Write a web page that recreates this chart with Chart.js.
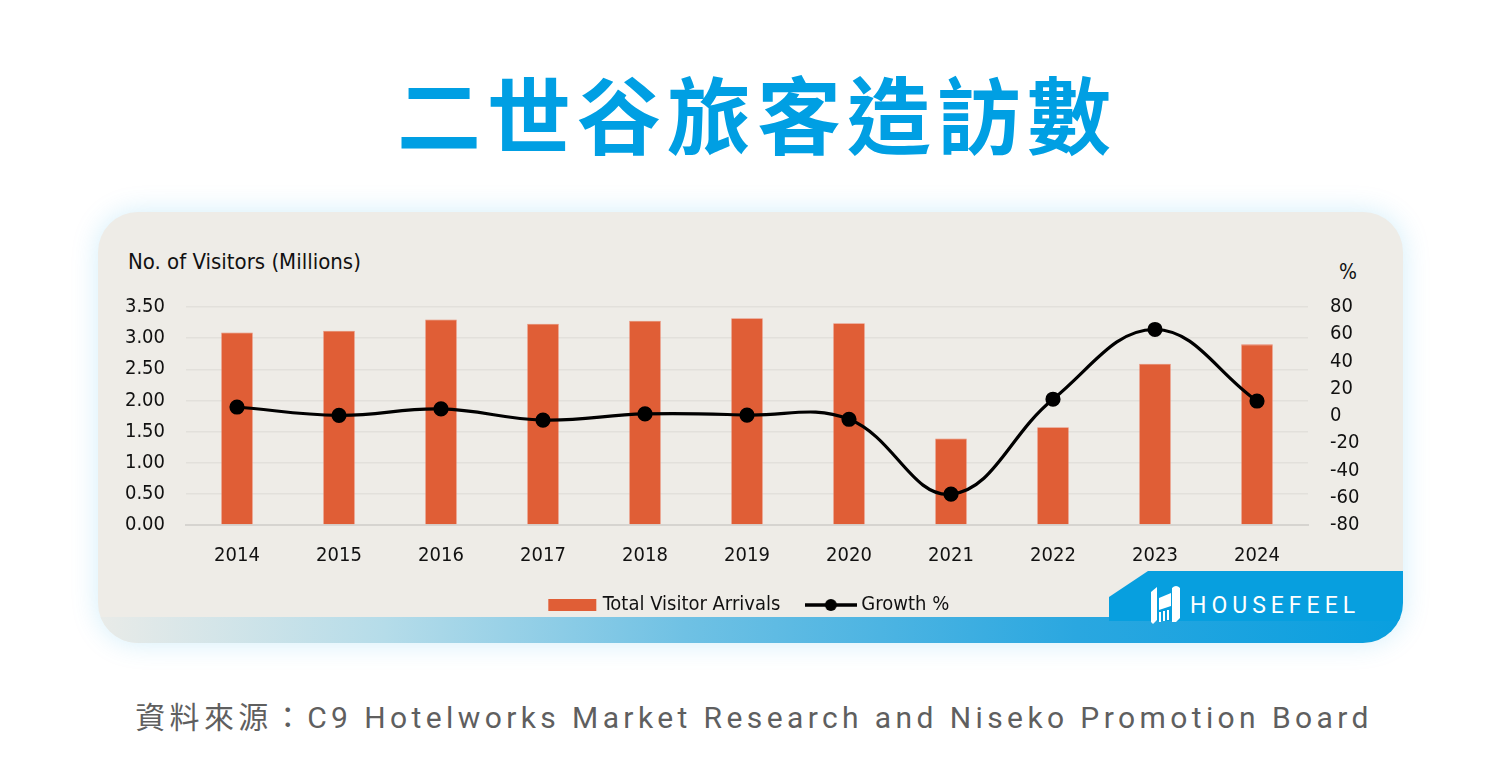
<!DOCTYPE html>
<html>
<head>
<meta charset="utf-8">
<script src="https://cdn.jsdelivr.net/npm/chart.js@4"></script>
<style>
  html, body { margin: 0; padding: 0; background: #ffffff; }
  body { width: 1500px; height: 778px; position: relative; overflow: hidden; }
  .titulo {
    position: absolute; left: 0; top: 62px; width: 1500px; text-align: center;
    font-family: "Noto Sans CJK TC", sans-serif; font-weight: 700; font-size: 84px;
    letter-spacing: 6px; color: #009fe3; line-height: 100px; padding-left: 14px; box-sizing: border-box;
  }
  .card {
    position: absolute; left: 98px; top: 212px; width: 1305px; height: 431px;
    background: #eeece7; border-radius: 40px; overflow: hidden;
    box-shadow: 0 0 28px rgba(0, 160, 230, 0.18);
  }
  .faixa {
    position: absolute; left: 0; bottom: 0; width: 100%; height: 26px;
    background: linear-gradient(90deg, #e9ebe8 0%, #b5dce9 22%, #6fc1e4 45%, #2aa7e0 75%, #099fdf 100%);
  }
  .aba {
    position: absolute; right: 0; top: 359px; width: 294px; height: 50px;
    background: #079fdf; clip-path: polygon(0 26px, 39px 0, 100% 0, 100% 100%, 0 100%);
  }
  .marca {
    position: absolute; left: 1092px; top: 380px; font-family: Roboto, sans-serif;
    font-size: 23px; letter-spacing: 5px; color: #ffffff; font-weight: 400;
  }
  .logo { position: absolute; left: 1051px; top: 372px; }
  .eixoTit {
    position: absolute; font-family: "DejaVu Sans Condensed", sans-serif;
    font-size: 22px; color: #111;
  }
  canvas#grafico { position: absolute; left: 0; top: 28px; }
  .fonte {
    position: absolute; left: 0; top: 693px; width: 1500px; text-align: center;
    font-family: Roboto, "Noto Sans CJK TC", sans-serif; font-weight: 400; font-size: 30px;
    letter-spacing: 4.4px; color: #5f5f5f; padding-left: 8px; box-sizing: border-box;
  }
</style>
</head>
<body>
<div class="titulo">二世谷旅客造訪數</div>
<div class="card">
  <div class="faixa"></div>
  <div class="aba"></div>
  <svg class="logo" width="34" height="42" viewBox="0 0 34 42">
    <path d="M2 8 L8 3 L8 36 L4 40 L2 38 Z" fill="#fff"/>
    <path d="M10 14 L22 9 L22 22 L10 26 Z" fill="#fff"/>
    <path d="M23 4 Q27 0 31 4 L31 34 L27 38 L23 38 Z" fill="#fff"/>
    <path d="M11 28 L11 38 M15 27 L15 37 M19 26 L19 36" stroke="#fff" stroke-width="2"/>
  </svg>
  <div class="marca">HOUSEFEEL</div>
  <div class="eixoTit" style="left:30px; top:37px;">No. of Visitors (Millions)</div>
  <div class="eixoTit" style="left:1241px; top:48px; font-size:21px;">%</div>
  <canvas id="grafico" width="1305" height="390"></canvas>
</div>
<div class="fonte">資料來源：C9 Hotelworks Market Research and Niseko Promotion Board</div>

<script>
// dados
const anos = ["2014", "2015", "2016", "2017", "2018", "2019", "2020", "2021", "2022", "2023", "2024"];
const visitantes = [3.09, 3.12, 3.30, 3.23, 3.28, 3.32, 3.24, 1.39, 1.57, 2.59, 2.90];
const crescimento = [6.6, 0.5, 5.2, -3.0, 1.5, 0.7, -2.4, -57.4, 12.3, 63.5, 11.0];
const nomesSeries = ["Total Visitor Arrivals", "Growth %"];

const fonteEixo = "'DejaVu Sans Condensed', sans-serif";

// ícones da legenda
function iconeBarra() {
  const c = document.createElement("canvas");
  c.width = 50; c.height = 14;
  const g = c.getContext("2d");
  g.fillStyle = "#e05e36";
  g.fillRect(1, 1, 48, 12);
  return c;
}
function iconeLinha() {
  const c = document.createElement("canvas");
  c.width = 52; c.height = 14;
  const g = c.getContext("2d");
  g.strokeStyle = "#000"; g.lineWidth = 3.5;
  g.beginPath(); g.moveTo(0, 7); g.lineTo(52, 7); g.stroke();
  g.fillStyle = "#000";
  g.beginPath(); g.arc(26, 7, 6, 0, Math.PI * 2); g.fill();
  return c;
}
const icones = [iconeBarra(), iconeLinha()];

const ctx = document.getElementById("grafico").getContext("2d");
new Chart(ctx, {
  data: {
    labels: anos,
    datasets: [
      {
        type: "line",
        label: nomesSeries[1],
        data: crescimento,
        yAxisID: "y1",
        borderColor: "#000",
        backgroundColor: "#000",
        borderWidth: 3.2,
        tension: 0.4,
        pointRadius: 6,
        pointHoverRadius: 6,
        order: 0
      },
      {
        type: "bar",
        label: nomesSeries[0],
        data: visitantes,
        yAxisID: "y",
        backgroundColor: "#e05e36",
        borderColor: "#e9846a",
        borderWidth: 0.8,
        barPercentage: 0.31,
        categoryPercentage: 1,
        order: 1
      }
    ]
  },
  options: {
    responsive: false,
    animation: false,
    layout: { padding: { top: 67, bottom: 5, left: 0, right: 0 } },
    plugins: {
      tooltip: { enabled: false },
      legend: {
        position: "bottom",
        reverse: true,
        labels: {
          usePointStyle: true,
          pointStyleWidth: 41,
          padding: 30,
          color: "#111",
          font: { family: fonteEixo, size: 20 },
          generateLabels: function (chart) {
            const itens = Chart.defaults.plugins.legend.labels.generateLabels(chart);
            itens.forEach(function (it) {
              it.pointStyle = icones[it.datasetIndex === 1 ? 0 : 1];
            });
            return itens;
          }
        }
      }
    },
    scales: {
      x: {
        offset: true,
        grid: { display: false, drawTicks: false },
        border: { display: true, color: "#d6d4d0", width: 2 },
        ticks: { padding: 19, color: "#111", font: { family: fonteEixo, size: 20 } },
        afterFit: function (s) { s.height = 40; }
      },
      y: {
        position: "left",
        min: 0,
        max: 3.5,
        ticks: {
          stepSize: 0.5,
          padding: 21,
          color: "#111",
          font: { family: fonteEixo, size: 20 },
          callback: function (v) { return Number(v).toFixed(2); }
        },
        grid: { color: "#e2e0db", lineWidth: 1.5, drawTicks: false },
        border: { display: false },
        afterFit: function (s) { s.width = 88; }
      },
      y1: {
        position: "right",
        min: -80,
        max: 80,
        ticks: { stepSize: 20, padding: 22, color: "#111", font: { family: fonteEixo, size: 20 } },
        grid: { display: false, drawTicks: false },
        border: { display: false },
        afterFit: function (s) { s.width = 95; }
      }
    }
  }
});
</script>
</body>
</html>
